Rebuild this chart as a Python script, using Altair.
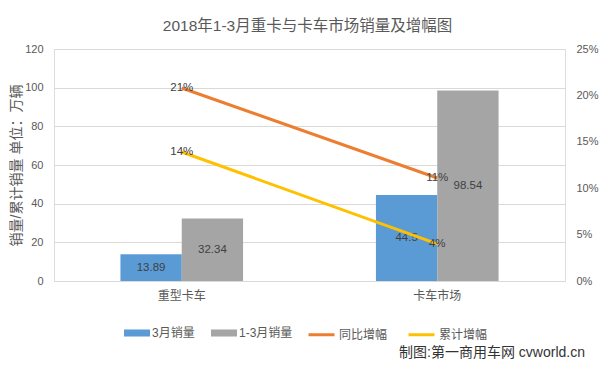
import altair as alt
import pandas as pd

categories = ["重型卡车", "卡车市场"]
bar_series = ["3月销量", "1-3月销量"]
march_sales = [13.89, 44.5]
q1_sales = [32.34, 98.54]
line_series = ["同比增幅", "累计增幅"]
yoy_growth = [0.208, 0.111]
cum_growth = [0.139, 0.040]
left_ticks = [0, 20, 40, 60, 80, 100, 120]
right_ticks = [0, 0.05, 0.10, 0.15, 0.20, 0.25]
bar_colors = ["#5B9BD5", "#A5A5A5"]
line_colors = ["#ED7D31", "#FFC000"]
title_text = "2018年1-3月重卡与卡车市场销量及增幅图"
y_title = "销量/累计销量 单位：万辆"
watermark = "制图:第一商用车网 cvworld.cn"

FONT = "'Liberation Sans', 'Noto Sans CJK SC', sans-serif"
GREY_TXT = "#595959"
DATA_TXT = "#404040"
GRID = "#D9D9D9"

bar_df = pd.DataFrame({
    "cat": categories * 2,
    "series": [bar_series[0]] * 2 + [bar_series[1]] * 2,
    "value": march_sales + q1_sales,
})
bar_df["label"] = bar_df["value"].map(lambda v: f"{v:g}")

line_df = pd.DataFrame({
    "cat": categories * 2,
    "series": [line_series[0]] * 2 + [line_series[1]] * 2,
    "value": yoy_growth + cum_growth,
})

x_enc = alt.X(
    "cat:N", sort=categories,
    scale=alt.Scale(paddingInner=0.52, paddingOuter=0.26),
    axis=alt.Axis(title=None, labelAngle=0, labelFontSize=12, labelColor=GREY_TXT,
                  labelFont=FONT, labelPadding=9, ticks=False, domainColor=GRID,
                  grid=False),
)
xoff = alt.XOffset("series:N", sort=bar_series,
                   scale=alt.Scale(paddingInner=0, paddingOuter=0))

left_axis = alt.Axis(values=left_ticks, title=y_title, titleFontSize=14,
                     titleFont=FONT, titleFontWeight="normal", titleColor=GREY_TXT,
                     titleAngle=-90, titleX=-38, titleY=116, titleAlign="center",
                     titleBaseline="middle",
                     labelFontSize=11, labelColor=GREY_TXT, labelFont=FONT,
                     labelPadding=11, ticks=False, domain=False,
                     gridColor=GRID, gridWidth=1)
left_scale = alt.Scale(domain=[0, 120])

bars = alt.Chart(bar_df).mark_bar().encode(
    x=x_enc, xOffset=xoff,
    y=alt.Y("value:Q", scale=left_scale, axis=left_axis),
    fill=alt.Fill("series:N", sort=bar_series,
                  scale=alt.Scale(domain=bar_series, range=bar_colors),
                  legend=alt.Legend(title=None, orient="none", legendX=70, legendY=271,
                                    direction="horizontal",
                                    symbolType="M-1,-0.27H1V0.27H-1Z", symbolSize=676,
                                    symbolStrokeWidth=0,
                                    labelFontSize=12, labelColor=GREY_TXT, labelFont=FONT,
                                    labelOffset=2, columnPadding=16)),
)
bar_text = alt.Chart(bar_df).transform_calculate(mid="datum.value / 2").mark_text(
    fontSize=11.5, color=DATA_TXT, font=FONT, baseline="middle"
).encode(
    x=x_enc, xOffset=xoff,
    y=alt.Y("mid:Q", scale=left_scale, axis=left_axis),
    text="label:N",
)

right_scale = alt.Scale(domain=[0, 0.25])
right_axis = alt.Axis(orient="right", values=right_ticks, format=".0%", title=None,
                      grid=False, ticks=False, domain=False, labelPadding=11,
                      labelFontSize=11, labelColor=GREY_TXT, labelFont=FONT)
lines = alt.Chart(line_df).mark_line(strokeWidth=3).encode(
    x=x_enc,
    y=alt.Y("value:Q", scale=right_scale, axis=right_axis),
    stroke=alt.Stroke("series:N", sort=line_series,
                      scale=alt.Scale(domain=line_series, range=line_colors),
                      legend=alt.Legend(title=None, orient="none", legendX=253, legendY=271,
                                        direction="horizontal", symbolType="stroke",
                                        symbolSize=676, symbolStrokeWidth=3,
                                        labelFontSize=12, labelColor=GREY_TXT,
                                        labelFont=FONT, labelOffset=3, columnPadding=14)),
)
line_text = alt.Chart(line_df).mark_text(
    fontSize=11.5, color=DATA_TXT, font=FONT, baseline="middle"
).encode(
    x=x_enc,
    y=alt.Y("value:Q", scale=right_scale, axis=right_axis),
    text=alt.Text("value:Q", format=".0%"),
)

wm = alt.Chart(pd.DataFrame({"t": [watermark]})).mark_text(
    align="right", baseline="middle", fontSize=14, color="#333333", font=FONT
).encode(x=alt.value(531), y=alt.value(304), text="t:N")

chart = alt.layer(
    alt.layer(bars, bar_text),
    alt.layer(lines, line_text),
    wm,
).resolve_scale(y="independent").properties(
    width=511, height=232,
    title=alt.Title(title_text, fontSize=15.5, color=GREY_TXT, font=FONT,
                    fontWeight="normal", anchor="middle", offset=9, dx=-2),
    autosize=alt.AutoSizeParams(type="none"),
    padding={"left": 46, "top": 41, "right": 38, "bottom": 79},
).configure_view(stroke=None).configure(background="white")

chart.save("out.html", embed_options={"renderer": "svg", "actions": False})
